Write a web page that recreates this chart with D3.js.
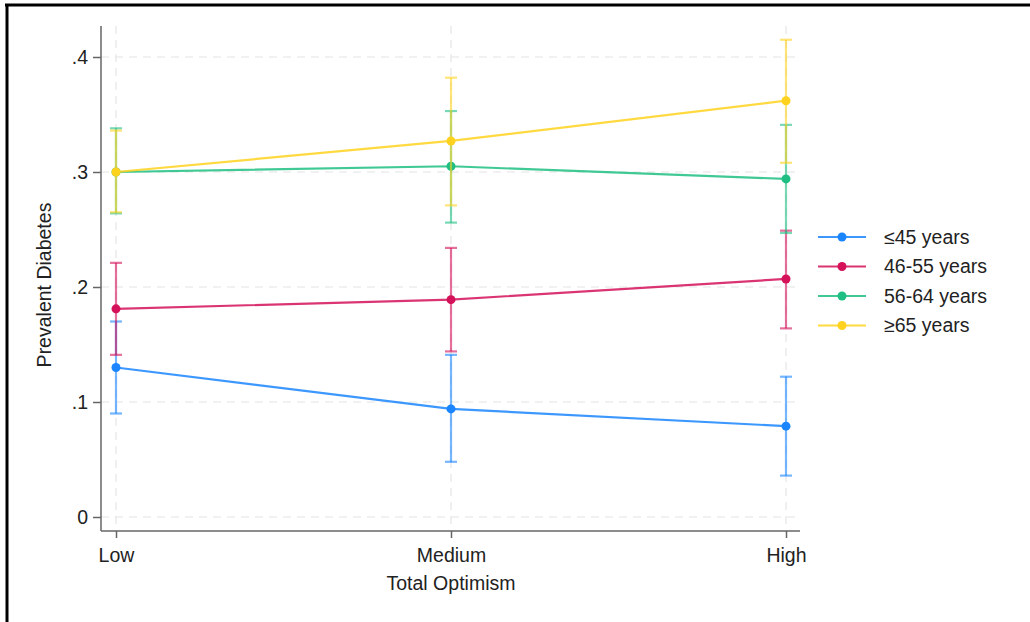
<!DOCTYPE html>
<html>
<head>
<meta charset="utf-8">
<script src="https://cdn.jsdelivr.net/npm/d3@7"></script>
<style>
  body { margin: 0; background: #fff; }
  svg { display: block; font-family: "Liberation Sans", Arial, Helvetica, sans-serif; }
</style>
</head>
<body>
<div id="chart"></div>
<script>
const categories = ["Low", "Medium", "High"];
const groups = ["≤45 years", "46-55 years", "56-64 years", "≥65 years"];
const colors = ["#1a85ff", "#d41159", "#1fbf83", "#ffd21f"];

// point estimates, per group, per category
const estimates = [
  [0.130, 0.094, 0.079],
  [0.181, 0.189, 0.207],
  [0.300, 0.305, 0.294],
  [0.300, 0.327, 0.362]
];
const lower = [
  [0.090, 0.048, 0.036],
  [0.141, 0.144, 0.164],
  [0.264, 0.256, 0.247],
  [0.265, 0.271, 0.308]
];
const upper = [
  [0.170, 0.141, 0.122],
  [0.221, 0.234, 0.249],
  [0.338, 0.353, 0.341],
  [0.336, 0.382, 0.415]
];
const yTicks = [0, 0.1, 0.2, 0.3, 0.4];
const yTickLabels = ["0", ".1", ".2", ".3", ".4"];

function draw() {
  const width = 1030, height = 622;
  const plot = { left: 101, right: 800, top: 26, bottom: 531 };
  const fontSize = "19.5px";

  const svg = d3.select("#chart").append("svg")
    .attr("width", width)
    .attr("height", height);

  // outer frame (top and left edges visible)
  svg.append("line").attr("x1", 5).attr("x2", width).attr("y1", 5).attr("y2", 5)
    .attr("stroke", "#000").attr("stroke-width", 3);
  svg.append("line").attr("x1", 7).attr("x2", 7).attr("y1", 4).attr("y2", height)
    .attr("stroke", "#000").attr("stroke-width", 3);

  const x = d3.scalePoint()
    .domain(categories)
    .range([116, 786]);

  const y = d3.scaleLinear()
    .domain([0, 0.4])
    .range([517, 57]);

  // grid
  const grid = svg.append("g")
    .attr("stroke", "#e4e4e4")
    .attr("stroke-width", 1.2)
    .attr("stroke-dasharray", "8,6");
  grid.selectAll(".hg").data(yTicks).join("line")
    .attr("x1", plot.left).attr("x2", plot.right)
    .attr("y1", d => y(d)).attr("y2", d => y(d));
  grid.selectAll(".vg").data(categories).join("line")
    .attr("x1", d => x(d)).attr("x2", d => x(d))
    .attr("y1", plot.top).attr("y2", plot.bottom);

  // axes
  const yAxis = svg.append("g")
    .attr("transform", `translate(${plot.left},0)`)
    .call(d3.axisLeft(y).tickValues(yTicks).tickFormat((d, i) => yTickLabels[i]).tickSize(8).tickPadding(5));
  yAxis.select(".domain").attr("d", `M0,${plot.top}V${plot.bottom}`);

  const xAxis = svg.append("g")
    .attr("transform", `translate(0,${plot.bottom})`)
    .call(d3.axisBottom(x).tickSize(7).tickPadding(10));
  xAxis.select(".domain").attr("d", `M${plot.left},0H${plot.right}`);

  svg.selectAll(".domain, .tick line").attr("stroke", "#666").attr("stroke-width", 1.5);
  svg.selectAll(".tick text").attr("fill", "#222").style("font-size", fontSize);

  svg.append("text")
    .attr("x", x("Medium")).attr("y", 590)
    .attr("text-anchor", "middle")
    .attr("fill", "#222")
    .style("font-size", fontSize)
    .text("Total Optimism");

  svg.append("text")
    .attr("transform", `translate(51,285) rotate(-90)`)
    .attr("text-anchor", "middle")
    .attr("fill", "#222")
    .style("font-size", fontSize)
    .text("Prevalent Diabetes");

  const line = d3.line()
    .x((d, i) => x(categories[i]))
    .y(d => y(d));

  const series = svg.append("g");
  groups.forEach((g, gi) => {
    const s = series.append("g");
    // error bars
    categories.forEach((c, ci) => {
      const cx = x(c);
      const eb = s.append("g").attr("stroke", colors[gi]).attr("stroke-width", 2.2).attr("stroke-opacity", 0.6);
      eb.append("line").attr("x1", cx).attr("x2", cx).attr("y1", y(lower[gi][ci])).attr("y2", y(upper[gi][ci]));
      eb.append("line").attr("x1", cx - 6).attr("x2", cx + 6).attr("y1", y(lower[gi][ci])).attr("y2", y(lower[gi][ci]));
      eb.append("line").attr("x1", cx - 6).attr("x2", cx + 6).attr("y1", y(upper[gi][ci])).attr("y2", y(upper[gi][ci]));
    });
    s.append("path")
      .attr("d", line(estimates[gi]))
      .attr("fill", "none")
      .attr("stroke", colors[gi])
      .attr("stroke-width", 2.2)
      .attr("stroke-opacity", 0.85);
    s.selectAll("circle").data(estimates[gi]).join("circle")
      .attr("cx", (d, i) => x(categories[i]))
      .attr("cy", d => y(d))
      .attr("r", 4.5)
      .attr("fill", colors[gi]);
  });

  // legend
  const legend = svg.append("g").attr("transform", "translate(818,237)");
  groups.forEach((g, gi) => {
    const row = legend.append("g").attr("transform", `translate(0,${gi * 29.5})`);
    row.append("line").attr("x1", 0).attr("x2", 48).attr("y1", 0).attr("y2", 0)
      .attr("stroke", colors[gi]).attr("stroke-width", 2.2).attr("stroke-opacity", 0.85);
    row.append("circle").attr("cx", 24).attr("cy", 0).attr("r", 4.5).attr("fill", colors[gi]);
    row.append("text").attr("x", 66).attr("y", 0).attr("dy", "0.35em")
      .attr("fill", "#222").style("font-size", fontSize).text(g);
  });
}
draw();
</script>
</body>
</html>
